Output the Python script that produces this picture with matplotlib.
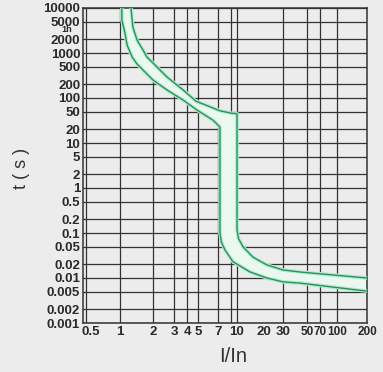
import numpy as np
import matplotlib
matplotlib.use("Agg")
import matplotlib.pyplot as plt
import matplotlib.transforms as mtransforms

# y axis ticks (seconds)
y_ticks = [10000, 5000, 2000, 1000, 500, 200, 100, 50, 20, 10, 5, 2, 1,
           0.5, 0.2, 0.1, 0.05, 0.02, 0.01, 0.005, 0.002, 0.001]
y_labels = ["10000", "5000", "2000", "1000", "500", "200", "100", "50", "20",
            "10", "5", "2", "1", "0.5", "0.2", "0.1", "0.05", "0.02", "0.01",
            "0.005", "0.002", "0.001"]

# x axis ticks (I/In)
x_ticks = [0.5, 1, 2, 3, 4, 5, 7, 10, 20, 30, 50, 70, 100, 200]
x_labels = ["0.5", "1", "2", "3", "4", "5", "7", "10", "20", "30", "50",
            "70", "100", "200"]
x_grid = [1, 2, 3, 4, 5, 7, 9, 10, 30, 50, 70, 100]

# lower / left edge of the tripping band
lo_I = [1.04, 1.04, 1.11, 1.16, 1.29, 1.43, 1.62, 2.0, 2.62, 3.67, 4.9, 6.45, 7.26,
        7.26, 7.45, 7.98, 9.27, 14.0, 21.3, 30, 43, 200]
lo_t = [10000, 5410, 2780, 1506, 815, 570, 419, 251, 151, 90, 54, 32, 22.7,
        0.1, 0.063, 0.042, 0.023, 0.0136, 0.0100, 0.0082, 0.0077, 0.0051]

# upper / right edge of the tripping band
hi_I = [1.26, 1.29, 1.31, 1.43, 1.62, 1.76, 2.0, 2.62, 3.67, 4.8, 7.26, 9.0, 10.0,
        10.0, 10.4, 11.7, 15.1, 21.3, 30, 43, 200]
hi_t = [10000, 5410, 3780, 1945, 1166, 815, 600, 293, 151, 85, 52, 46, 45,
        0.117, 0.075, 0.049, 0.029, 0.0195, 0.0151, 0.0136, 0.0100]

# the I/In axis of the original is a hand drawn, not quite regular log scale
knot_v = np.log10([0.001, 0.5, 1, 2, 3, 4, 5, 7, 10, 20, 30, 50, 70, 100, 200, 1e5])
knot_p = np.array([-206, 91, 120, 153, 174, 187, 198, 218, 237, 264, 283, 307,
                   320, 337, 367, 664], dtype=float)


def fwd(v):
    v = np.clip(np.asarray(v, dtype=float), 1e-12, None)
    return np.interp(np.log10(v), knot_v, knot_p)


def inv(p):
    return 10 ** np.interp(np.asarray(p, dtype=float), knot_p, knot_v)


bg = "#ececec"
fig = plt.figure(figsize=(3.83, 3.72), dpi=100, facecolor=bg)
ax = fig.add_axes([83 / 383, 1 - 323 / 372, 284 / 383, 315 / 372], facecolor=bg)
ax.set_xscale("function", functions=(fwd, inv))
ax.set_yscale("log")
ax.set_xlim(float(inv(83)), 200)
ax.set_ylim(0.001, 10000)

grid_kw = dict(color="#333333", lw=0.9, zorder=1)
for v in x_grid:
    ax.axvline(v, **grid_kw)
ax.axvline(float(inv(85.5)), **grid_kw)
for v in y_ticks:
    ax.axhline(v, **grid_kw)

# band
band_I = lo_I + hi_I[::-1]
band_t = lo_t + hi_t[::-1]
ax.fill(band_I, band_t, color="#eaf8ef", zorder=2, lw=0)
for I, t in ((lo_I, lo_t), (hi_I, hi_t)):
    ax.plot(I, t, color="#b2ead0", lw=2.6, zorder=3, solid_joinstyle="round")
    ax.plot(I, t, color="#2a9258", lw=1.0, zorder=4, solid_joinstyle="round")

ax.set_xticks(x_ticks)
ax.set_xticklabels(x_labels)
ax.set_yticks(y_ticks)
ax.set_yticklabels(y_labels)
ax.minorticks_off()
ax.tick_params(length=0, pad=2, labelsize=9.5, colors="#2a2a2a")
for lab in ax.get_xticklabels() + ax.get_yticklabels():
    lab.set_fontfamily("Liberation Sans")
    lab.set_fontweight("bold")
for lab in ax.get_xticklabels()[10:]:
    lab.set_fontsize(8.5)

ax.text(-0.056, 3400, "1h", transform=mtransforms.blended_transform_factory(ax.transAxes, ax.transData),
        ha="center", va="center", fontsize=6.5, color="#2a2a2a", family="Liberation Sans",
        fontweight="bold")

for s in ax.spines.values():
    s.set_color("#333333")
    s.set_linewidth(1.1)

fig.text(22 / 383, 1 - 168 / 372, "t ( s )", rotation=90, ha="center", va="center",
         fontsize=13, color="#333333", family="Liberation Sans")
fig.text(233 / 383, 1 - 357 / 372, "I/In", ha="center", va="center",
         fontsize=14.5, color="#333333", family="Liberation Sans")

fig.savefig("out.png", dpi=100, facecolor=bg)
